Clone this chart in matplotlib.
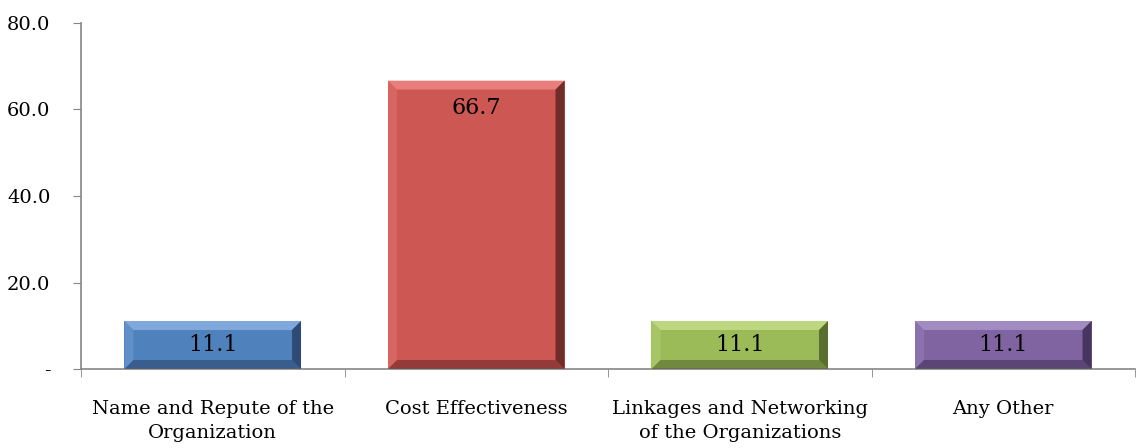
import matplotlib
matplotlib.use("Agg")
import matplotlib.pyplot as plt
from matplotlib.patches import Polygon
import numpy as np

categories = ["Name and Repute of the\nOrganization", "Cost Effectiveness",
              "Linkages and Networking\nof the Organizations", "Any Other"]
values = [11.1, 66.7, 11.1, 11.1]
colors = ["#4F81BD", "#CD5753", "#9BBB59", "#8064A2"]
light = ["#8DB3E2", "#F08A88", "#C6DE8A", "#AB95C8"]
dark = ["#1F3556", "#4A1A19", "#3E4E1E", "#2E2140"]
yticks = [0, 20, 40, 60, 80]
yticklabels = ["-", "20.0", "40.0", "60.0", "80.0"]

plt.rcParams['font.family'] = ['DejaVu Serif']
fig = plt.figure(figsize=(11.39, 4.48), dpi=100)
ax = fig.add_axes([81/1139, 1 - 369/448, (1135-81)/1139, (369-23)/448])

x = np.arange(len(values))
bars = ax.bar(x, values, width=0.67, color=colors, zorder=2)
ax.set_xlim(-0.5, len(values) - 0.5)
ax.set_ylim(0, 80)
ax.set_yticks(yticks)
ax.set_yticklabels(yticklabels, fontsize=14)
ax.set_xticks(x)
ax.set_xticklabels(categories, fontsize=14, linespacing=1.45)
ax.tick_params(axis='x', length=0, pad=22)
ax.set_xticks(np.arange(-0.5, len(values)), minor=True)
ax.tick_params(axis='x', which='minor', length=6, color='#868686')
ax.tick_params(axis='y', length=6, color='#868686', pad=16)
for s in ['top', 'right']:
    ax.spines[s].set_visible(False)
for s in ['left', 'bottom']:
    ax.spines[s].set_color('#868686')
    ax.spines[s].set_linewidth(1.2)

# bevel effect in pixel units
fig.canvas.draw()
bev = 9
inv = ax.transData.inverted()
for b, lc, dc in zip(bars, light, dark):
    (x0, y0), (x1, y1) = ax.transData.transform([(b.get_x(), 0), (b.get_x() + b.get_width(), b.get_height())])
    def P(pts):
        return inv.transform(pts)
    ax.add_patch(Polygon(P([(x0, y1), (x1, y1), (x1 - bev, y1 - bev), (x0 + bev, y1 - bev)]),
                         color=lc, alpha=0.8, lw=0, zorder=3))
    ax.add_patch(Polygon(P([(x0, y0), (x0, y1), (x0 + bev, y1 - bev), (x0 + bev, y0 + bev)]),
                         color=lc, alpha=0.3, lw=0, zorder=3))
    ax.add_patch(Polygon(P([(x1, y0), (x1, y1), (x1 - bev, y1 - bev), (x1 - bev, y0 + bev)]),
                         color=dc, alpha=0.7, lw=0, zorder=3))
    ax.add_patch(Polygon(P([(x0, y0), (x1, y0), (x1 - bev, y0 + bev), (x0 + bev, y0 + bev)]),
                         color=dc, alpha=0.45, lw=0, zorder=3))

for b, v in zip(bars, values):
    cx = b.get_x() + b.get_width() / 2
    if v > 30:
        ax.annotate(f"{v:.1f}", (cx, v), xytext=(0, -20), textcoords='offset points',
                    ha='center', va='center', fontsize=16, zorder=4)
    else:
        ax.text(cx, v / 2, f"{v:.1f}", ha='center', va='center', fontsize=16, zorder=4)

fig.savefig("out.png", dpi=100)
